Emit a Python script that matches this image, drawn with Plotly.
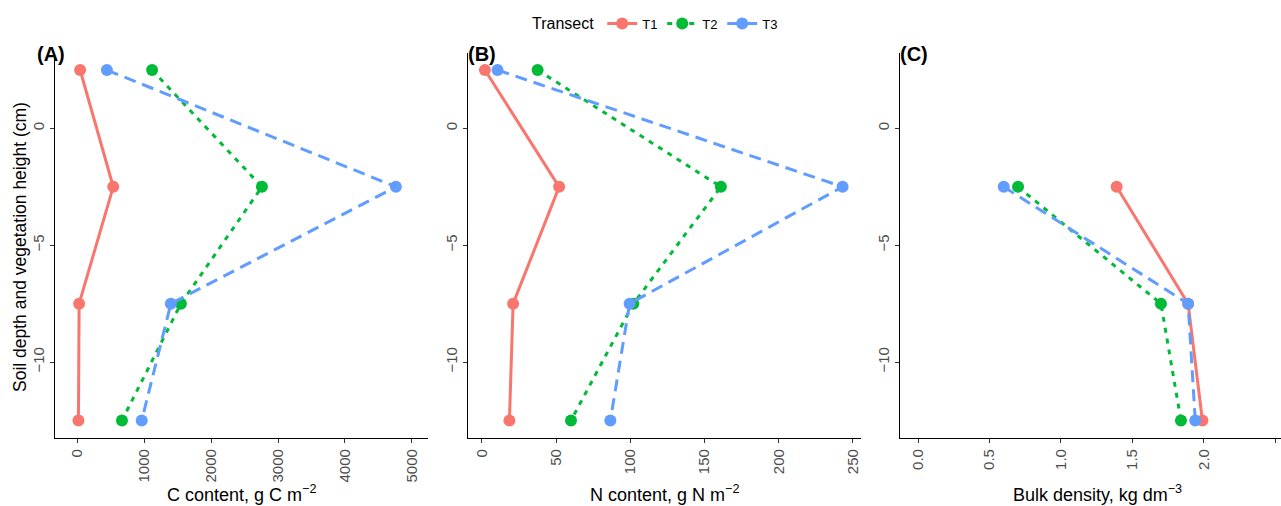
import plotly.graph_objects as go

depth = [2.5, -2.5, -7.5, -12.5]
depth_bd = [-2.5, -7.5, -12.5]
transects = ["T1", "T2", "T3"]

c_t1 = [45, 540, 30, 20]
c_t2 = [1120, 2760, 1550, 670]
c_t3 = [445, 4760, 1400, 965]

n_t1 = [2, 52, 21, 18.5]
n_t2 = [37.5, 161, 102, 60]
n_t3 = [10.5, 243, 99.5, 86.5]

bd_t1 = [1.39, 1.89, 1.99]
bd_t2 = [0.70, 1.70, 1.84]
bd_t3 = [0.60, 1.89, 1.94]

colors = {"T1": "#F8766D", "T2": "#00BA38", "T3": "#619CFF"}
dashes = {"T1": "solid", "T2": "5px,6px", "T3": "12px,7px"}

W, H = 1281, 506
def fx(px):
    return px / W
def fy(py):
    return 1 - py / H

fig = go.Figure()

panels = [
    ("x", "y", depth, {"T1": c_t1, "T2": c_t2, "T3": c_t3}),
    ("x2", "y2", depth, {"T1": n_t1, "T2": n_t2, "T3": n_t3}),
    ("x3", "y3", depth_bd, {"T1": bd_t1, "T2": bd_t2, "T3": bd_t3}),
]

for i, (xa, ya, yv, series) in enumerate(panels):
    for t in transects:
        fig.add_trace(go.Scatter(
            x=series[t], y=yv, xaxis=xa, yaxis=ya,
            mode="lines+markers", name=t, legendgroup=t,
            showlegend=(i == 0),
            line=dict(color=colors[t], width=3, dash=dashes[t]),
            marker=dict(color=colors[t], size=12),
        ))

ydom = [fy(438), fy(52.5)]
xdoms = [[fx(55), fx(428)], [fx(468), fx(861)], [fx(900), 1.0]]
xranges = [[-330, 5240], [-9.4, 255.4], [-0.126, 2.54]]
xticks = [[0, 1000, 2000, 3000, 4000, 5000], [0, 50, 100, 150, 200, 250],
          [0.0, 0.5, 1.0, 1.5, 2.0, 2.5]]
xticktext = [[str(v) for v in xticks[0]], [str(v) for v in xticks[1]],
             ["%.1f" % v for v in xticks[2]]]

font = "Liberation Sans, Arial, sans-serif"

axis_common = dict(
    showline=True, linecolor="black", linewidth=1.2,
    ticks="outside", ticklen=4, tickcolor="#333333", tickwidth=1,
    showgrid=False, zeroline=False, automargin=False,
    tickfont=dict(family=font, size=15, color="#4D4D4D"),
    tickangle=-90,
)

for i in range(3):
    sfx = "" if i == 0 else str(i + 1)
    fig.update_layout(**{
        "xaxis" + sfx: dict(domain=xdoms[i], range=xranges[i], anchor="y" + sfx,
                            tickvals=xticks[i], ticktext=xticktext[i], **axis_common),
        "yaxis" + sfx: dict(domain=ydom, range=[-13.25, 3.25], anchor="x" + sfx,
                            tickvals=[0, -5, -10], ticktext=["0", "\u22125", "\u221210"],
                            **axis_common),
    })

annotations = []
xtitles = ["C content, g C m<sup>\u22122</sup>", "N content, g N m<sup>\u22122</sup>",
           "Bulk density, kg dm<sup>\u22123</sup>"]
xcenters = [242, 664, 1097]
for i, t in enumerate(xtitles):
    annotations.append(dict(text=t, x=fx(xcenters[i]),
                            y=fy(493), xref="paper", yref="paper", showarrow=False,
                            xanchor="center", yanchor="middle",
                            font=dict(family=font, size=18, color="black")))
for tag, px in [("(A)", 35), ("(B)", 466), ("(C)", 898)]:
    annotations.append(dict(text="<b>%s</b>" % tag, x=fx(px), y=fy(54), xref="paper",
                            yref="paper", showarrow=False, xanchor="left", yanchor="middle",
                            font=dict(family=font, size=20, color="black")))
annotations.append(dict(text="Soil depth and vegetation height (cm)", x=fx(20), y=fy(247),
                        xref="paper", yref="paper", showarrow=False, textangle=-90,
                        xanchor="center", yanchor="middle",
                        font=dict(family=font, size=17.5, color="black")))

fig.update_layout(
    width=W, height=H, template="none",
    margin=dict(l=0, r=0, t=0, b=0),
    paper_bgcolor="white", plot_bgcolor="white",
    annotations=annotations,
    showlegend=True,
    legend=dict(orientation="h", x=fx(530), y=fy(24), xanchor="left", yanchor="middle",
                title=dict(text="Transect", font=dict(family=font, size=16, color="black")),
                font=dict(family=font, size=13, color="black"),
                entrywidth=15, entrywidthmode="pixels", tracegroupgap=0,
                bgcolor="rgba(0,0,0,0)"),
)

fig.write_html("out.html", post_script="document.body.style.margin='0';",
               config={"displayModeBar": False})
